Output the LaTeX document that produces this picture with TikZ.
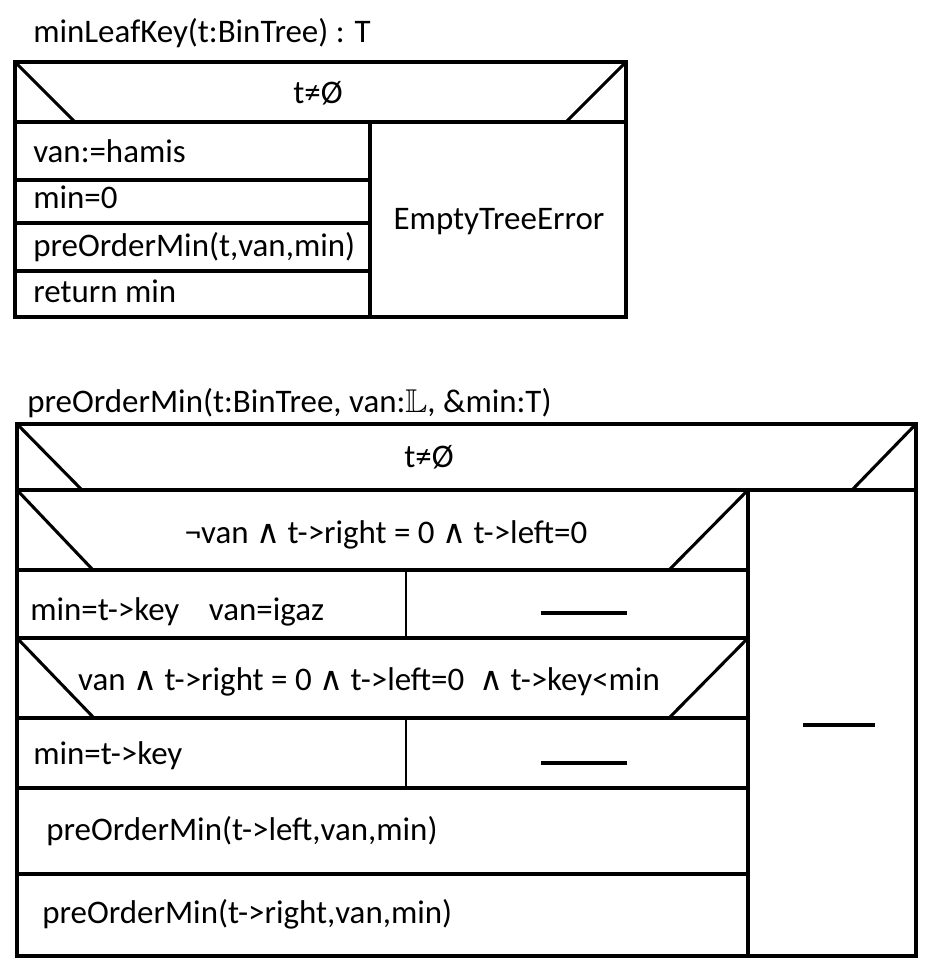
\documentclass[tikz,border=0pt]{standalone}
\usepackage{fontspec}
\setmainfont{Carlito}
\newfontfamily\symfont{DejaVu Sans}[Scale=1.0]
\usepackage{amssymb}
\usetikzlibrary{positioning}

\newcommand\andsym{{\symfont ∧}}

\tikzset{
  frame/.style={line width=2.3pt},
  thinsplit/.style={line width=1.6pt},
  emptystep/.style={line width=2.4pt},
  cell/.style={anchor=base west, inner sep=0pt, font=\fontsize{24.7}{29}\selectfont},
  cond/.style={anchor=base, inner sep=0pt, font=\fontsize{24.7}{29}\selectfont},
}

\begin{document}
\begin{tikzpicture}[x=0.75pt, y=-0.75pt]
\useasboundingbox (0,0) rectangle (933,969);

% ---- minLeafKey ----
\node[cell] (headA) at (33,43) {minLeafKey(t:BinTree) : T};
\draw[frame] (15,62) rectangle (626,317);
\draw[frame] (15,122) -- (626,122);
\draw[frame] (15,62) -- (75,122);
\draw[frame] (626,62) -- (566,122);
\node[cond] (condA) at (318,104) {t≠Ø};
\draw[frame] (370,122) -- (370,317);
\draw[frame] (15,180) -- (370,180);
\draw[frame] (15,223) -- (370,223);
\draw[frame] (15,271) -- (372,271);
\foreach \n/\y/\t in {vanA/163/van:=hamis, minA/209/min=0, callA/257/{preOrderMin(t,van,min)}, retA/303/return min}
{
  \node[cell] (\n) at (33,\y) {\t};
};
\node[cond] (errA) at (499,230) {EmptyTreeError};

% ---- preOrderMin ----
\node[cell] (headB) at (27,412) {preOrderMin(t:BinTree, van:$\mathbb{L}$, \&min:T)};
\draw[frame] (17,424) rectangle (916,956);
\draw[frame] (17,490) -- (916,490);
\draw[frame] (17,424) -- (82,490);
\draw[frame] (916,424) -- (852,490);
\node[cond] (condB) at (429,467) {t≠Ø};
\draw[frame] (748,490) -- (748,956);
% first if
\draw[frame] (17,490) -- (93,570);
\draw[frame] (748,490) -- (669,570);
\draw[frame] (17,570) -- (748,570);
\node[cond] (condC) at (386,543) {¬van \andsym{} t->right = 0 \andsym{} t->left=0};
\draw[thinsplit] (406,570) -- (406,638);
\node[cell] (thenC) at (30,620) {min=t->key\hspace{0.9em}van=igaz};
\draw[emptystep] (541,613) -- (627,613);
\draw[frame] (17,638) -- (748,638);
% second if
\draw[frame] (17,638) -- (94,718);
\draw[frame] (748,638) -- (669,718);
\node[cond] (condD) at (369,690) {van \andsym{} t->right = 0 \andsym{} t->left=0 \ \andsym{} t->key<min};
\draw[frame] (17,718) -- (748,718);
\draw[thinsplit] (406,718) -- (406,788);
\node[cell] (thenD) at (33,764) {min=t->key};
\draw[emptystep] (541,763) -- (627,763);
\draw[frame] (17,788) -- (748,788);
\node[cell] (recL) at (46,840) {preOrderMin(t->left,van,min)};
\draw[frame] (17,874) -- (748,874);
\node[cell] (recR) at (42,923) {preOrderMin(t->right,van,min)};
% else branch
\draw[emptystep] (803,725) -- (875,725);
\end{tikzpicture}
\end{document}
